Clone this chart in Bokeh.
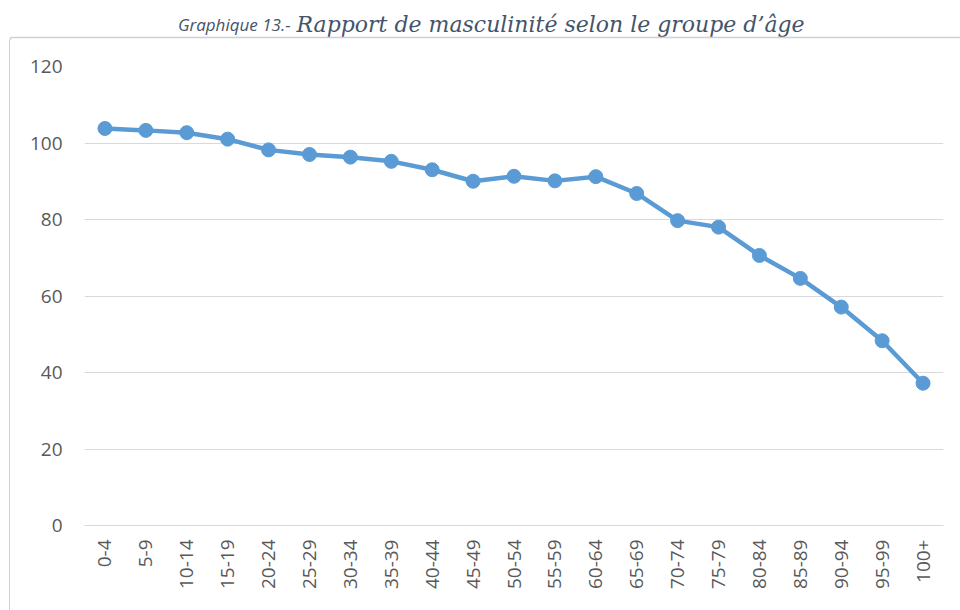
import math
from bokeh.plotting import figure
from bokeh.layouts import column, row
from bokeh.models import Range1d, FactorRange, FixedTicker, Div
from bokeh.core.properties import value
from bokeh.embed import file_html
from bokeh.resources import INLINE

groups = ["0-4", "5-9", "10-14", "15-19", "20-24", "25-29", "30-34", "35-39",
          "40-44", "45-49", "50-54", "55-59", "60-64", "65-69", "70-74", "75-79",
          "80-84", "85-89", "90-94", "95-99", "100+"]
ratio = [103.8, 103.3, 102.7, 101.0, 98.2, 97.0, 96.3, 95.2, 93.0, 90.0,
         91.3, 90.1, 91.2, 86.8, 79.7, 78.0, 70.6, 64.6, 57.1, 48.3, 37.2]
y_ticks = [0, 20, 40, 60, 80, 100, 120]

title_a = "Graphique 13.-"
title_b = "Rapport de masculinité selon le groupe d\u2019âge"

BLUE = "#5B9BD5"
GRID = "#D9D9D9"
TXT = "#595959"
TITLE_C = "#44546A"
BORDER = "#D0D0D0"

W, H = 960, 610
TOP_H = 40   # title strip
LEFT_W = 10  # strip holding the chart-area left border

# --- title strip (pixel-like coordinates, y downward) ---
t = figure(width=W, height=TOP_H, x_range=Range1d(0, W), y_range=Range1d(TOP_H, 0),
           output_backend="svg", toolbar_location=None, title=None,
           x_axis_type=None, y_axis_type=None,
           min_border=0, min_border_left=0, min_border_right=0,
           min_border_top=0, min_border_bottom=0)
t.outline_line_color = None
t.xgrid.visible = False
t.ygrid.visible = False
t.text(x=[290], y=[24], text=[title_a], text_font=value("Open Sans"),
       text_font_style="italic", text_font_size="17px", text_color=TITLE_C,
       text_align="right", text_baseline="alphabetic")
t.text(x=[296], y=[24], text=[title_b], text_font=value("DejaVu Serif"),
       text_font_style="italic", text_font_size="22px", text_color=TITLE_C,
       text_align="left", text_baseline="alphabetic")
t.segment(x0=[10], y0=[37], x1=[W], y1=[37], line_color=BORDER, line_width=1.5)
t.segment(x0=[10], y0=[37], x1=[10], y1=[TOP_H], line_color=BORDER, line_width=1.5)

# --- left strip: border of the chart area ---
edge = Div(text="", width=LEFT_W, height=H - TOP_H, margin=0,
           styles={"border-right": "1.5px solid " + BORDER})

# --- main chart ---
p = figure(width=W - LEFT_W - 2, height=H - TOP_H,
           x_range=FactorRange(*groups, range_padding=0),
           y_range=Range1d(0, 120), output_backend="svg", toolbar_location=None,
           min_border_left=86 - LEFT_W - 2, min_border_right=15,
           min_border_top=66 - TOP_H, min_border_bottom=85)
p.outline_line_color = None
p.background_fill_color = "white"
p.border_fill_color = "white"

p.xgrid.grid_line_color = None
p.ygrid.grid_line_color = GRID
p.ygrid.grid_line_width = 1
p.yaxis.ticker = FixedTicker(ticks=y_ticks)

for ax in (p.xaxis, p.yaxis):
    ax.major_tick_line_color = None
    ax.minor_tick_line_color = None
    ax.major_tick_out = 0
    ax.major_tick_in = 0
    ax.major_label_text_font = "Open Sans"
    ax.major_label_text_font_size = "19px"
    ax.major_label_text_color = TXT

p.yaxis.axis_line_color = None
p.yaxis.major_label_standoff = 22
p.xaxis.axis_line_color = GRID
p.xaxis.axis_line_width = 1
p.xaxis.major_label_orientation = math.pi / 2
p.xaxis.major_label_standoff = 14

p.line(groups, ratio, line_color=BLUE, line_width=4.5)
p.scatter(groups, ratio, marker="circle", size=14, fill_color=BLUE, line_color=BLUE)

layout = column(t, row(edge, p, spacing=0), spacing=0)
open("out.html", "w").write(file_html(layout, INLINE))
